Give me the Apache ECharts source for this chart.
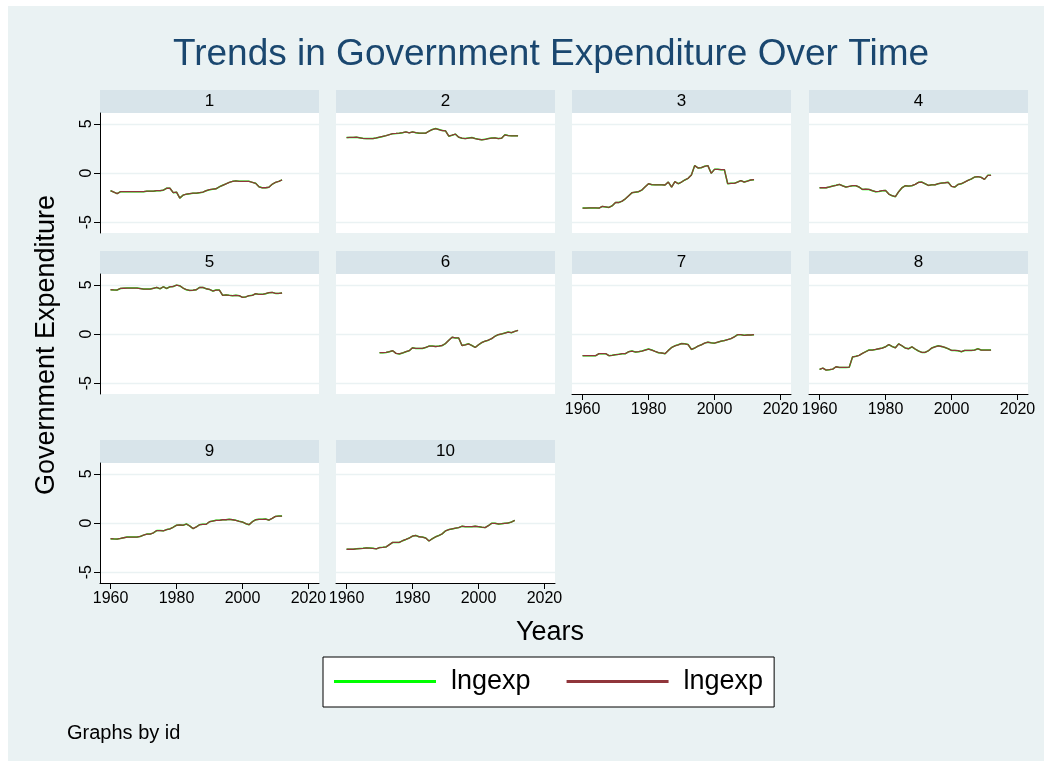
<!DOCTYPE html>
<html>
<head>
<meta charset="utf-8">
<title>Trends in Government Expenditure Over Time</title>
<script src="https://cdn.jsdelivr.net/npm/echarts@6/dist/echarts.min.js"></script>
<style>
  html, body { margin: 0; padding: 0; background: #fff; }
  #chart { width: 1052px; height: 767px; }
</style>
</head>
<body>
<div id="chart"></div>
<script>
var years = [
  1960, 1961, 1962, 1963, 1964, 1965, 1966, 1967, 1968, 1969,
  1970, 1971, 1972, 1973, 1974, 1975, 1976, 1977, 1978, 1979,
  1980, 1981, 1982, 1983, 1984, 1985, 1986, 1987, 1988, 1989,
  1990, 1991, 1992, 1993, 1994, 1995, 1996, 1997, 1998, 1999,
  2000, 2001, 2002, 2003, 2004, 2005, 2006, 2007, 2008, 2009,
  2010, 2011, 2012
];
var panelIds = ["1", "2", "3", "4", "5", "6", "7", "8", "9", "10"];

var id1 = [
  -1.8, -1.95, -2.1, -1.9, -1.9, -1.9, -1.9, -1.9, -1.9, -1.9,
  -1.9, -1.85, -1.85, -1.85, -1.8, -1.8, -1.75, -1.55, -1.55, -2.0,
  -1.95, -2.55, -2.25, -2.15, -2.1, -2.05, -2.05, -2.0, -1.95, -1.8,
  -1.7, -1.65, -1.6, -1.4, -1.25, -1.1, -0.95, -0.85, -0.8, -0.85,
  -0.85, -0.85, -0.85, -0.95, -1.05, -1.4, -1.5, -1.5, -1.45, -1.15,
  -0.95, -0.85, -0.7
];
var id2 = [
  3.6, 3.62, 3.62, 3.64, 3.58, 3.52, 3.5, 3.5, 3.5, 3.56,
  3.64, 3.72, 3.8, 3.9, 4.0, 4.02, 4.05, 4.1, 4.18, 4.08,
  4.18, 4.1, 4.05, 4.05, 4.05, 4.25, 4.42, 4.52, 4.42, 4.32,
  4.29, 3.74, 3.84, 3.95, 3.64, 3.54, 3.5, 3.55, 3.6, 3.5,
  3.43, 3.37, 3.42, 3.5, 3.55, 3.57, 3.5, 3.54, 3.88, 3.81,
  3.78, 3.78, 3.78
];
var id3 = [
  -3.57, -3.57, -3.55, -3.55, -3.55, -3.57, -3.4, -3.45, -3.5, -3.33,
  -3.0, -3.0, -2.86, -2.62, -2.31, -2.0, -1.95, -1.9, -1.73, -1.4,
  -1.09, -1.19, -1.2, -1.2, -1.2, -1.22, -0.92, -1.43, -0.88, -1.09,
  -0.92, -0.71, -0.54, -0.2, 0.75, 0.51, 0.54, 0.68, 0.75, -0.03,
  0.37, 0.37, 0.34, 0.34, -1.09, -1.05, -1.05, -0.92, -0.78, -0.92,
  -0.82, -0.71, -0.68
];
var id4 = [
  -1.5, -1.5, -1.5, -1.42, -1.33, -1.25, -1.16, -1.3, -1.43, -1.36,
  -1.29, -1.29, -1.43, -1.67, -1.64, -1.67, -1.8, -1.9, -1.87, -1.8,
  -1.77, -2.14, -2.31, -2.41, -1.9, -1.5, -1.29, -1.33, -1.29, -1.16,
  -0.95, -0.92, -1.09, -1.26, -1.2, -1.2, -1.09, -1.02, -0.99, -0.95,
  -1.36, -1.43, -1.16, -1.09, -0.92, -0.75, -0.61, -0.41, -0.37, -0.44,
  -0.65, -0.24, -0.24
];
var id5 = [
  4.5, 4.48, 4.47, 4.63, 4.65, 4.67, 4.67, 4.67, 4.67, 4.62,
  4.57, 4.57, 4.57, 4.65, 4.73, 4.6, 4.8, 4.63, 4.8, 4.83,
  4.97, 4.9, 4.67, 4.5, 4.43, 4.45, 4.5, 4.73, 4.73, 4.6,
  4.53, 4.37, 4.47, 4.47, 3.93, 3.97, 3.93, 3.9, 3.93, 3.9,
  3.73, 3.77, 3.9, 3.93, 4.1, 4.03, 4.03, 4.1, 4.2, 4.23,
  4.13, 4.13, 4.17
];
var id6 = [
  null, null, null, null, null, null, null, null, null, null,
  -1.9, -1.9, -1.87, -1.8, -1.7, -1.97, -2.03, -1.93, -1.8, -1.7,
  -1.4, -1.47, -1.47, -1.47, -1.37, -1.23, -1.23, -1.27, -1.23, -1.17,
  -0.97, -0.63, -0.33, -0.4, -0.4, -1.17, -1.1, -1.0, -1.17, -1.37,
  -1.1, -0.87, -0.73, -0.63, -0.47, -0.23, -0.07, 0.0, 0.1, 0.2,
  0.13, 0.27, 0.37
];
var id7 = [
  -2.2, -2.2, -2.2, -2.2, -2.2, -2.0, -2.0, -2.0, -2.2, -2.17,
  -2.1, -2.07, -2.0, -2.0, -1.8, -1.73, -1.83, -1.8, -1.73, -1.63,
  -1.53, -1.63, -1.77, -1.9, -1.93, -2.0, -1.67, -1.37, -1.2, -1.1,
  -0.97, -1.0, -1.07, -1.57, -1.43, -1.23, -1.1, -0.93, -0.83, -0.9,
  -0.93, -0.83, -0.73, -0.67, -0.57, -0.47, -0.3, -0.07, -0.07, -0.13,
  -0.1, -0.1, -0.07
];
var id8 = [
  -3.6, -3.47, -3.67, -3.63, -3.57, -3.33, -3.4, -3.4, -3.4, -3.37,
  -2.33, -2.27, -2.17, -1.97, -1.8, -1.63, -1.63, -1.57, -1.5, -1.43,
  -1.3, -1.07, -1.27, -1.4, -1.0, -1.2, -1.43, -1.5, -1.3, -1.53,
  -1.73, -1.87, -1.87, -1.7, -1.43, -1.3, -1.2, -1.27, -1.37, -1.5,
  -1.67, -1.67, -1.7, -1.8, -1.67, -1.67, -1.67, -1.63, -1.5, -1.63,
  -1.63, -1.63, -1.63
];
var id9 = [
  -1.6, -1.62, -1.63, -1.57, -1.5, -1.43, -1.43, -1.43, -1.43, -1.37,
  -1.23, -1.13, -1.13, -1.0, -0.77, -0.77, -0.8, -0.67, -0.6, -0.43,
  -0.23, -0.2, -0.23, -0.1, -0.3, -0.57, -0.4, -0.17, -0.13, -0.13,
  0.13, 0.2, 0.27, 0.27, 0.33, 0.33, 0.37, 0.33, 0.27, 0.17,
  0.1, -0.07, -0.17, 0.13, 0.33, 0.37, 0.37, 0.4, 0.3, 0.47,
  0.67, 0.7, 0.7
];
var id10 = [
  -2.67, -2.67, -2.67, -2.63, -2.6, -2.57, -2.53, -2.55, -2.57, -2.63,
  -2.5, -2.47, -2.43, -2.2, -1.97, -1.97, -1.97, -1.8, -1.67, -1.53,
  -1.33, -1.27, -1.4, -1.43, -1.53, -1.83, -1.6, -1.4, -1.27, -1.1,
  -0.8, -0.67, -0.6, -0.53, -0.47, -0.33, -0.37, -0.37, -0.37, -0.33,
  -0.37, -0.43, -0.47, -0.27, -0.03, -0.03, -0.1, -0.07, -0.03, 0.0,
  0.1, 0.27, null
];
var panelValues = [id1, id2, id3, id4, id5, id6, id7, id8, id9, id10];

var xTicks = [1960, 1980, 2000, 2020];
var yTicks = [-5, 0, 5];

// layout (stata-like by() graph)
var FONT = "'Liberation Sans', Arial, sans-serif";
var colLeft = [100, 336, 572, 809];
var rowTop = [113, 274, 463];
var plotW = 219, plotH = 120, stripH = 23;
var xBottomPanels = [6, 7, 8, 9];

var grids = [], xAxes = [], yAxes = [], series = [], graphics = [];

graphics.push({
  type: "rect", z: -10, silent: true,
  shape: { x: 8, y: 6, width: 1036, height: 755 },
  style: { fill: "#eaf2f3" }
});

panelIds.forEach(function (pid, i) {
  var row = Math.floor(i / 4), col = i % 4;
  var left = colLeft[col], top = rowTop[row];
  var showY = col === 0;
  var showX = xBottomPanels.indexOf(i) >= 0;

  grids.push({
    left: left, top: top, width: plotW, height: plotH,
    show: true, backgroundColor: "#fff", borderWidth: 0
  });

  xAxes.push({
    type: "value", gridIndex: i, min: 1956.8, max: 2023.2,
    axisLine: { show: showX, onZero: false, lineStyle: { color: "#000", width: 1 } },
    axisTick: { show: showX, length: 6, customValues: xTicks, lineStyle: { color: "#000" } },
    axisLabel: {
      show: showX, customValues: xTicks, fontSize: 16, color: "#000", margin: 8, fontFamily: FONT,
      formatter: function (v) { return String(v); }
    },
    splitLine: { show: false }
  });

  yAxes.push({
    type: "value", gridIndex: i, min: -6.1, max: 6.1,
    axisLine: { show: showY, onZero: false, lineStyle: { color: "#000", width: 1 } },
    axisTick: { show: showY, length: 6, customValues: yTicks, lineStyle: { color: "#000" } },
    axisLabel: { show: showY, customValues: yTicks, rotate: 90, fontSize: 16, color: "#000", margin: 5, fontFamily: FONT },
    splitLine: { show: true, lineStyle: { color: "#eaf2f3", width: 1.3 } }
  });

  var pts = [];
  years.forEach(function (yr, k) {
    if (panelValues[i][k] !== null) pts.push([yr, panelValues[i][k]]);
  });

  // both series carry the same variable; the red one sits on top of the green
  series.push({
    name: "lngexp_g", type: "line", xAxisIndex: i, yAxisIndex: i,
    data: pts, symbol: "none", color: "#00ff00",
    lineStyle: { color: "#00ff00", width: 1.5 }
  });
  series.push({
    name: "lngexp_r", type: "line", xAxisIndex: i, yAxisIndex: i,
    data: pts, symbol: "none", color: "#90353b",
    lineStyle: { color: "#90353b", width: 1.3 }
  });

  // strip with the panel id
  graphics.push({
    type: "rect", silent: true,
    shape: { x: left, y: top - stripH, width: plotW, height: stripH },
    style: { fill: "#d8e4ea" }
  });
  graphics.push({
    type: "text", silent: true, x: left + plotW / 2, y: top - stripH / 2,
    style: { text: pid, fontSize: 17, fontFamily: FONT, fill: "#000", align: "center", verticalAlign: "middle" }
  });
});

graphics.push({
  type: "text", x: 551, y: 55,
  style: { text: "Trends in Government Expenditure Over Time", fontSize: 37, fontFamily: FONT,
           fill: "#1a476f", align: "center", verticalAlign: "middle" }
});
graphics.push({
  type: "text", x: 47, y: 345, rotation: Math.PI / 2,
  style: { text: "Government Expenditure", fontSize: 27, fontFamily: FONT,
           fill: "#000", align: "center", verticalAlign: "middle" }
});
graphics.push({
  type: "text", x: 550, y: 633,
  style: { text: "Years", fontSize: 27, fontFamily: FONT, fill: "#000", align: "center", verticalAlign: "middle" }
});
graphics.push({
  type: "text", x: 67, y: 733,
  style: { text: "Graphs by id", fontSize: 20, fontFamily: FONT, fill: "#000", align: "left", verticalAlign: "middle" }
});

var myChart = echarts.init(document.getElementById("chart"), null, { renderer: "canvas" });
myChart.setOption({
  animation: false,
  backgroundColor: "#fff",
  grid: grids,
  xAxis: xAxes,
  yAxis: yAxes,
  legend: {
    data: [
      { name: "lngexp_g", icon: "rect", itemStyle: { color: "#00ff00" } },
      { name: "lngexp_r", icon: "rect", itemStyle: { color: "#90353b" } }
    ],
    formatter: function () { return "lngexp"; },
    left: 323, top: 657,
    itemWidth: 102, itemHeight: 3, itemGap: 36,
    backgroundColor: "#fff", borderColor: "#000", borderWidth: 1,
    padding: [11, 11, 12, 11],
    textStyle: { fontSize: 27, color: "#000", fontFamily: FONT, padding: [0, 0, 0, 10] },
    selectedMode: false
  },
  graphic: graphics,
  series: series
});
</script>
</body>
</html>
